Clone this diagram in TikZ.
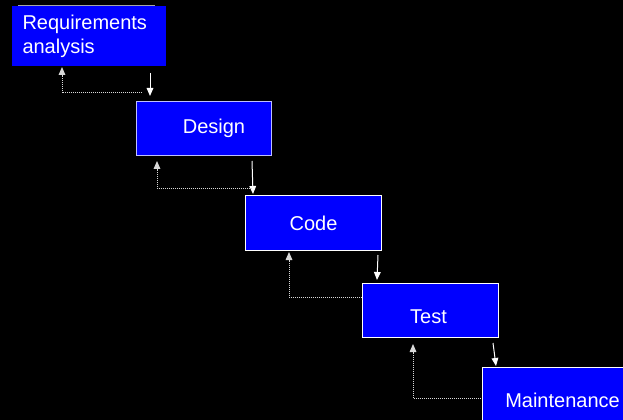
\documentclass[tikz,border=0pt]{standalone}
\usepackage{fontspec}
\setmainfont{Liberation Sans}
\usetikzlibrary{calc,arrows.meta}

\begin{document}
\begin{tikzpicture}[
		x=0.75pt,
		y=-0.75pt,
		every node/.style={
			font=\fontsize{15}{18}\selectfont,
			text=white,
		},
		stage/.style={
			rectangle,
			fill=blue,
			draw=white,
			line width=0.75pt,
			anchor=north west,
			minimum width=102pt,
			minimum height=40.5pt,
			inner sep=0pt,
		},
		flow/.style={
			draw=white,
			line width=0.75pt,
			-{Triangle[width=5pt,length=6pt]},
		},
		back/.style={
			draw=white!85!black,
			line width=0.75pt,
			dash pattern=on 0.75pt off 0.75pt,
			-{Triangle[width=5pt,length=6pt]},
		},
	]
	\fill[black] (0,0) rectangle (623,420);
	\useasboundingbox (0,0) rectangle (623,420);

	% the five stages
	\node[stage, draw=blue, minimum width=114.75pt, minimum height=44.25pt,
		text width=99.75pt, align=left] (req) at (12,6) {Requirements\\analysis};
	\node[stage, draw=blue!25!white, minimum width=101.25pt] (design) at (136,101) {\hspace*{15pt}Design};
	\node[stage, minimum height=41.25pt] (code) at (245,195) {Code};
	\node[stage] (test) at (362,283) {\raisebox{-9.8pt}[0pt][0pt]{Test}\hspace*{3pt}};
	\node[stage, minimum width=120pt, minimum height=49.5pt] (maint) at (482,367) {Maintenance};

	\draw[gray!70] ($(req.north west)+(6,-1)$) -- ($(req.north west)+(143,-1)$);

	% forward
	\draw[flow] ($(req.south west)+(138,7)$) -- ($(design.north west)+(14,-5)$);
	\draw[flow] ($(design.south west)+(116,5)$) -- ($(code.north west)+(8,-1)$);
	\draw[flow] ($(code.south west)+(133,4)$) -- ($(test.north west)+(15,-3)$);
	\draw[flow] ($(test.south west)+(131,5)$) -- ($(maint.north west)+(14,-1)$);

	% feedback
	\draw[back] ($(design.north west)+(6,-8)$) -| ($(req.south west)+(50,1)$);
	\draw[back] ($(code.north west)+(7,-7)$) -| ($(design.south west)+(21,5)$);
	\draw[back] ($(test.north west)+(0,14)$) -| ($(code.south west)+(44,1)$);
	\draw[back] ($(maint.north west)+(-1,31)$) -| ($(test.south west)+(51,6)$);
\end{tikzpicture}
\end{document}
